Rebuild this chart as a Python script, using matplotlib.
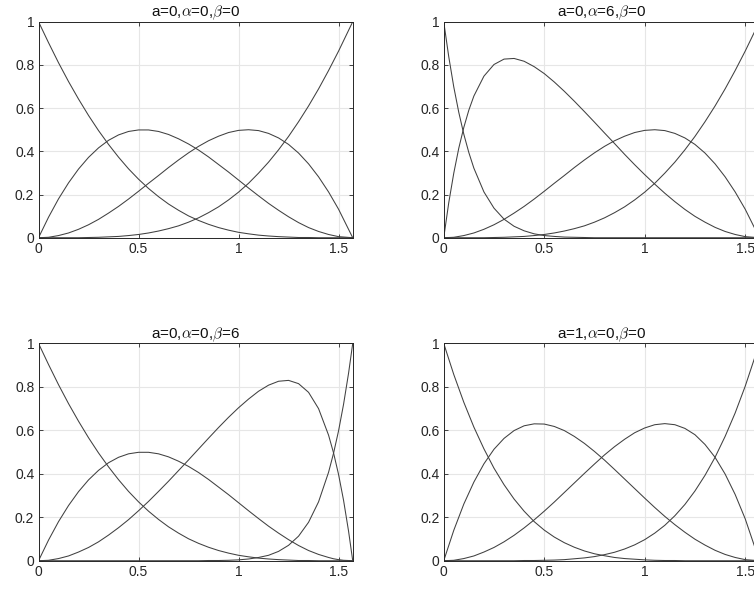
import matplotlib
matplotlib.use('Agg')
import matplotlib.pyplot as plt

plt.rcParams['font.family'] = ['Liberation Sans', 'DejaVu Sans']
plt.rcParams['mathtext.fontset'] = 'cm'

# x positions (t in [0, pi/2])
x_std = [0, 0.05, 0.10, 0.15, 0.20, 0.25, 0.30, 0.35, 0.40, 0.45, 0.50, 0.55, 0.60, 0.65, 0.70, 0.75,
         0.80, 0.85, 0.90, 0.95, 1.00, 1.05, 1.10, 1.15, 1.20, 1.25, 1.30, 1.35, 1.40, 1.45, 1.50, 1.5708]
x_p2 = [0, 0.025, 0.05, 0.075, 0.10, 0.125, 0.15, 0.20, 0.25, 0.30, 0.35, 0.40, 0.45, 0.50, 0.55, 0.60,
        0.65, 0.70, 0.75, 0.80, 0.85, 0.90, 0.95, 1.00, 1.05, 1.10, 1.15, 1.20, 1.25, 1.30, 1.35, 1.40,
        1.45, 1.50, 1.5708]
x_p3 = [0, 0.05, 0.10, 0.15, 0.20, 0.25, 0.30, 0.35, 0.40, 0.45, 0.50, 0.55, 0.60, 0.65, 0.70, 0.75,
        0.80, 0.85, 0.90, 0.95, 1.00, 1.05, 1.10, 1.15, 1.20, 1.25, 1.30, 1.35, 1.40, 1.45, 1.475,
        1.50, 1.525, 1.55, 1.5708]

# panel 1: a=0, alpha=0, beta=0
p1_b0 = [1.0, .903, .810, .723, .642, .566, .496, .432, .373, .319, .271, .228, .190, .156, .127, .101,
         .080, .062, .047, .035, .025, .018, .012, .008, .005, .003, .001, .001, 0, 0, 0, 0]
p1_b1 = [0, .095, .180, .254, .318, .372, .416, .451, .476, .492, .499, .499, .492, .478, .458, .434,
         .406, .374, .339, .304, .267, .230, .194, .159, .127, .097, .070, .047, .029, .015, .005, 0]
p1_b2 = [0, .002, .010, .022, .039, .060, .085, .114, .145, .179, .215, .252, .288, .325, .360, .393,
         .423, .449, .470, .487, .497, .500, .496, .483, .462, .432, .392, .342, .282, .212, .132, 0]
p1_b3 = [0, 0, 0, 0, 0, .001, .002, .004, .006, .010, .015, .022, .031, .042, .055, .072,
         .092, .116, .143, .175, .211, .252, .299, .350, .407, .469, .537, .610, .689, .774, .864, 1.0]

# panel 2: a=0, alpha=6, beta=0
p2_b0 = [1.0, .838, .698, .580, .479, .394, .322, .212, .137, .086, .053, .032, .018, .010, .006, .003,
         .002, .001, 0, 0, 0, 0, 0, 0, 0, 0, 0, 0, 0, 0, 0, 0, 0, 0, 0]
p2_b1 = [0, .162, .299, .415, .511, .591, .656, .748, .802, .827, .830, .817, .792, .760, .721, .678,
         .632, .584, .535, .485, .436, .386, .338, .292, .248, .206, .167, .131, .099, .072, .048, .029,
         .015, .005, 0]
p2_b2 = [0, .001, .002, .006, .010, .016, .022, .039, .060, .085, .114, .145, .179, .215, .252, .288,
         .325, .360, .393, .423, .449, .470, .487, .497, .500, .496, .483, .462, .432, .392, .342, .282,
         .212, .132, 0]
p2_b3 = [0, 0, 0, 0, 0, 0, 0, 0, .001, .002, .004, .006, .010, .015, .022, .031,
         .042, .055, .072, .092, .116, .143, .175, .211, .252, .299, .350, .407, .469, .537, .610, .689,
         .774, .864, 1.0]

# panel 3: a=0, alpha=0, beta=6
p3_b0 = [1.0, .903, .810, .723, .642, .566, .496, .432, .373, .319, .271, .228, .190, .156, .127, .101,
         .080, .062, .047, .035, .025, .018, .012, .008, .005, .003, .001, .001, 0, 0, 0, 0, 0, 0, 0]
p3_b1 = [0, .095, .180, .254, .318, .372, .416, .451, .476, .492, .499, .499, .492, .478, .458, .434,
         .406, .374, .339, .304, .267, .230, .194, .159, .127, .097, .070, .047, .029, .015, .009,
         .005, .002, .001, 0]
p3_b2 = [0, .002, .010, .022, .040, .061, .087, .118, .152, .189, .230, .273, .319, .366, .415, .464,
         .514, .564, .613, .660, .704, .744, .780, .808, .826, .830, .815, .775, .700, .578, .496,
         .397, .278, .136, 0]
p3_b3 = [0, 0, 0, 0, 0, 0, 0, 0, 0, 0, 0, 0, 0, 0, 0, 0,
         0, .001, .001, .002, .004, .008, .015, .025, .043, .071, .113, .177, .271, .407, .495,
         .598, .720, .863, 1.0]

# panel 4: a=1, alpha=0, beta=0
p4_b0 = [1.0, .857, .729, .615, .515, .426, .350, .284, .228, .180, .141, .109, .083, .062, .045, .032,
         .023, .015, .010, .007, .004, .002, .001, .001, 0, 0, 0, 0, 0, 0, 0, 0]
p4_b1 = [0, .140, .261, .362, .446, .513, .563, .599, .621, .630, .629, .618, .599, .572, .540, .503,
         .463, .420, .376, .332, .288, .245, .204, .166, .131, .099, .072, .048, .029, .015, .005, 0]
p4_b2 = [0, .002, .010, .022, .040, .061, .087, .117, .151, .188, .228, .270, .314, .358, .402, .445,
         .487, .525, .559, .589, .611, .626, .631, .626, .609, .580, .535, .476, .399, .305, .193, 0]
p4_b3 = [0, 0, 0, 0, 0, 0, 0, 0, .001, .001, .002, .003, .005, .009, .013, .019,
         .028, .039, .054, .073, .097, .127, .163, .207, .259, .321, .393, .476, .572, .680, .803, 1.0]

titles = [r'a=0,$\alpha$=0,$\beta$=0', r'a=0,$\alpha$=6,$\beta$=0',
          r'a=0,$\alpha$=0,$\beta$=6', r'a=1,$\alpha$=0,$\beta$=0']
panels = [(x_std, [p1_b0, p1_b1, p1_b2, p1_b3]),
          (x_p2, [p2_b0, p2_b1, p2_b2, p2_b3]),
          (x_p3, [p3_b0, p3_b1, p3_b2, p3_b3]),
          (x_std, [p4_b0, p4_b1, p4_b2, p4_b3])]

# axes boxes in figure fractions (right column runs past the figure edge)
boxes = [[0.0511, 0.5964, 0.4167, 0.3667],
         [0.5885, 0.5964, 0.4187, 0.3667],
         [0.0511, 0.0480, 0.4167, 0.3689],
         [0.5885, 0.0480, 0.4187, 0.3689]]

fig = plt.figure(figsize=(7.54, 5.89), dpi=100)
for box, title, (xs, curves) in zip(boxes, titles, panels):
    ax = fig.add_axes(box)
    for ys in curves:
        ax.plot(xs, ys, color='#404040', linewidth=0.75)
    ax.set_xlim(0, 1.5708)
    ax.set_ylim(0, 1)
    ax.set_xticks([0, 0.5, 1, 1.5])
    ax.set_xticklabels(['0', '0.5', '1', '1.5'])
    ax.set_yticks([0, 0.2, 0.4, 0.6, 0.8, 1])
    ax.set_yticklabels(['0', '0.2', '0.4', '0.6', '0.8', '1'])
    ax.grid(True, color='#e6e6e6', linewidth=0.8)
    ax.set_axisbelow(True)
    ax.tick_params(direction='in', length=3, width=0.6, labelsize=10, colors='#262626',
                   top=True, right=True, pad=3)
    for sp in ax.spines.values():
        sp.set_color('#262626')
        sp.set_linewidth(0.7)
    ax.set_title(title, fontsize=11, color='#111111', pad=4)

fig.savefig('out.png', dpi=100)
